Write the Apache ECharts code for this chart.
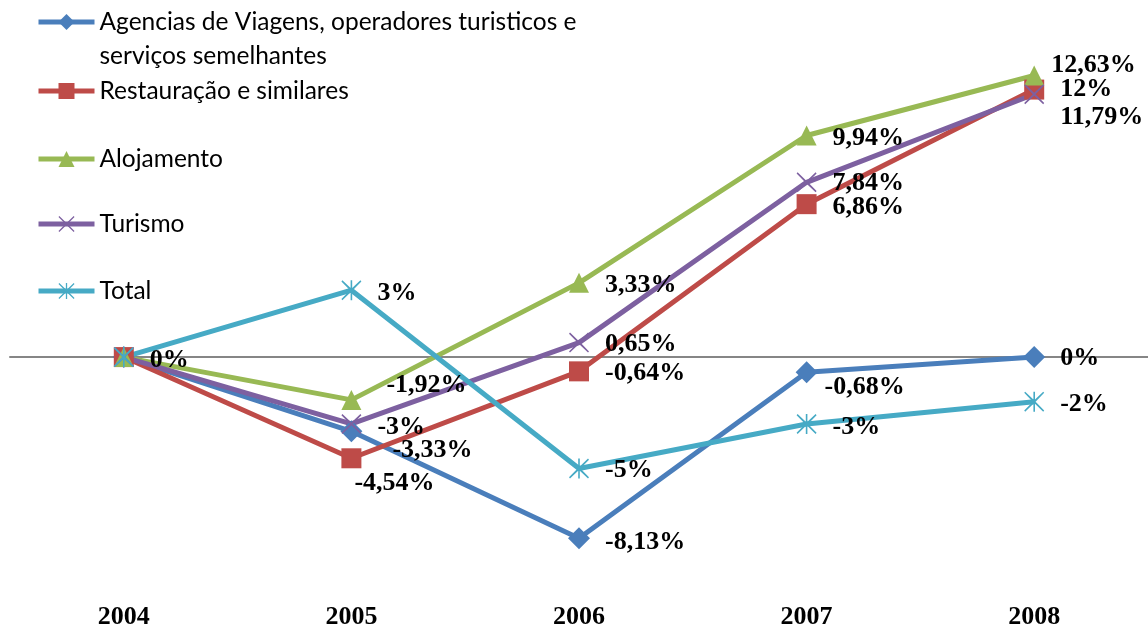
<!DOCTYPE html>
<html><head>
<meta charset="UTF-8">
<title>Turismo</title>
<script src="https://cdn.jsdelivr.net/npm/echarts@6/dist/echarts.min.js"></script>
<style>body{margin:0;background:#fff;} #main{width:1148px;height:630px;}</style>
</head>
<body>
<div id="main"></div>
<script>
// dados
var anos = ['2004', '2005', '2006', '2007', '2008'];
var nomes = ['Agencias de Viagens, operadores turisticos e serviços semelhantes', 'Restauração e similares', 'Alojamento', 'Turismo', 'Total'];
var agencias = [0, -3.33, -8.13, -0.68, 0];
var restauracao = [0, -4.54, -0.64, 6.86, 12];
var alojamento = [0, -1.92, 3.33, 9.94, 12.63];
var turismo = [0, -3, 0.65, 7.84, 11.79];
var total = [0, 3, -5, -3, -2];

// estilo
var cores = ['#4a7ebb', '#be4b48', '#98b954', '#7d60a0', '#46aac5'];
var xPath = 'path://M1,0L10,8.6L19,0L20,1.2L11.4,10L20,18.8L19,20L10,11.4L1,20L0,18.8L8.6,10L0,1.2Z';
var astPath = 'path://M1,0L10,8.6L19,0L20,1.2L11.4,10L20,18.8L19,20L10,11.4L1,20L0,18.8L8.6,10L0,1.2Z M9.2,0L10.8,0L10.8,20L9.2,20Z';
var simbolos = ['diamond', 'rect', 'triangle', xPath, astPath];
var tamanhos = [22, 20, 20, 20, 20];
// deslocamento dos rótulos [dx, dy], null = sem rótulo
var desloc = [
	[null, [15, 19], [0, 4], [-8, 15], [0, 1]],
	[null, [-23, 25], [0, 2], [0, 3], [0, 0]],
	[null, [9, -15], [0, 2], [0, 3], [-9, -10]],
	[null, [0, 3], [0, 2], [0, 1], [0, 23]],
	[[0, 3], [0, 3], [0, 2], [0, 3], [0, 3]]
];
var legTop = [-29, 74, 142, 207, 274];

var valores = [agencias, restauracao, alojamento, turismo, total];
var series = [];
var legends = [];
for (var i = 0; i < valores.length; i++) {
	var dados = [];
	for (var j = 0; j < valores[i].length; j++) {
		var d = desloc[i][j];
		if (d) {
			dados.push({value: valores[i][j], label: {show: true, offset: d}});
		} else {
			dados.push({value: valores[i][j], label: {show: false}});
		}
	}
	series.push({
		name: nomes[i],
		type: 'line',
		data: dados,
		symbol: simbolos[i],
		symbolSize: tamanhos[i],
		showAllSymbol: true,
		lineStyle: {color: cores[i], width: 5},
		itemStyle: {color: cores[i]},
		label: {
			position: 'right',
			distance: 26 - tamanhos[i] / 2,
			color: '#000',
			fontFamily: 'Liberation Serif',
			fontWeight: 'bold',
			fontSize: 26,
			formatter: function (p) { return String(p.value).replace('.', ',') + '%'; }
		},
		animation: false
	});
	legends.push({
		data: [nomes[i]],
		left: 36,
		top: legTop[i],
		padding: 0,
		itemWidth: 56,
		itemHeight: 20,
		lineStyle: {width: 5},
		// primeira entrada em duas linhas, com o ícone na primeira
		formatter: i === 0 ? ' \nAgencias de Viagens, operadores turisticos e\nserviços semelhantes' : '{name}',
		textStyle: {
			color: '#000',
			fontFamily: 'Lato',
			fontSize: 24.5,
			lineHeight: 34
		}
	});
}

var option = {
	backgroundColor: '#fff',
	legend: legends,
	grid: {left: 10, width: 1140, top: 45, height: 535},
	xAxis: [{
		type: 'category',
		data: anos,
		position: 'bottom',
		axisLine: {show: false, onZero: false},
		axisTick: {show: false},
		axisLabel: {color: '#000', fontFamily: 'Liberation Serif', fontWeight: 'bold', fontSize: 26, margin: 24}
	}, {
		type: 'category',
		data: anos,
		position: 'top',
		axisLine: {show: true, onZero: true, lineStyle: {color: '#868686', width: 2}},
		axisTick: {show: false},
		axisLabel: {show: false}
	}],
	yAxis: {
		type: 'value',
		min: -10,
		max: 14,
		show: false,
		splitLine: {show: false}
	},
	series: series
};
var chart = echarts.init(document.getElementById('main'));
chart.setOption(option);
</script>
</body>
</html>
